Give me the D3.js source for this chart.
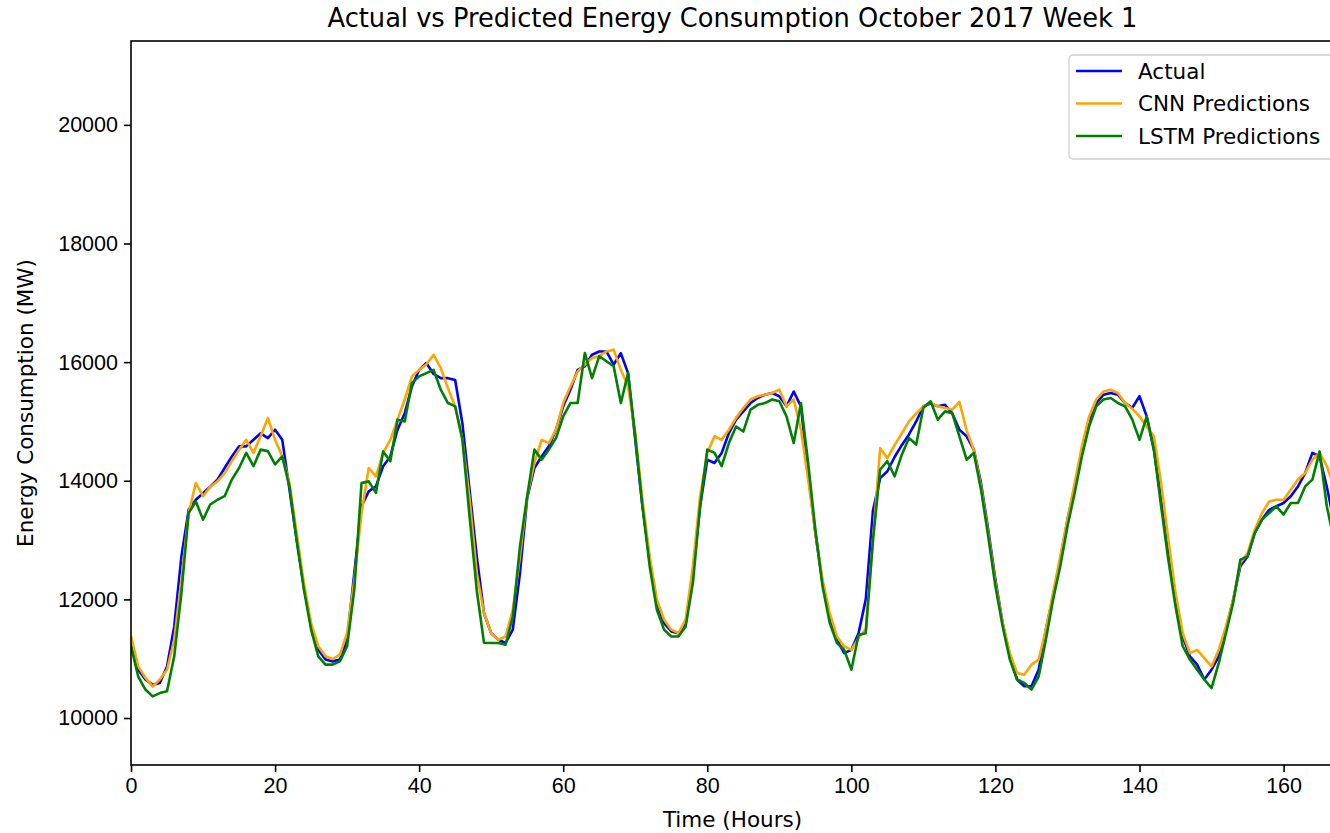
<!DOCTYPE html>
<html>
<head>
<meta charset="utf-8">
<script src="https://cdn.jsdelivr.net/npm/d3@7"></script>
<style>
  html, body { margin: 0; padding: 0; background: #ffffff; }
  svg { display: block; font-family: "DejaVu Sans", sans-serif; }
  .axis path, .axis line { stroke: #000; }
  .axis text { fill: #000; font-size: 21.5px; }
</style>
</head>
<body>
<div id="chart"></div>
<script>
// hourly values, index = hour
var actual = [
  11320, 10815, 10650, 10560, 10590, 10870, 11545, 12725, 13510, 13680, 13790, 13900, 14020, 14215, 14410, 14580,
  14580, 14690, 14800, 14720, 14860, 14690, 13850, 13000, 12220, 11545, 11150, 10985, 10955, 10985, 11320, 12445,
  13570, 13820, 13905, 14245, 14410, 14860, 15140, 15590, 15870, 15985, 15800, 15730, 15730, 15700, 14970, 13850,
  12725, 11770, 11430, 11320, 11265, 11490, 12445, 13710, 14215, 14410, 14580, 14860, 15255, 15535, 15870, 15930,
  16125, 16180, 16180, 15960, 16150, 15815, 14690, 13570, 12670, 11940, 11600, 11460, 11430, 11600, 12445, 13570,
  14355, 14300, 14470, 14805, 15030, 15170, 15310, 15395, 15450, 15480, 15425, 15255, 15505, 15255, 14130, 13120,
  12275, 11710, 11320, 11095, 11150, 11430, 12000, 13500, 14045, 14160, 14400, 14600, 14780, 15000, 15255, 15300,
  15255, 15280, 15140, 14860, 14750, 14525, 13960, 13175, 12330, 11600, 11040, 10650, 10535, 10535, 10815, 11490,
  12050, 12670, 13345, 13905, 14470, 14970, 15310, 15450, 15480, 15450, 15310, 15230, 15425, 15085, 14525, 13680,
  12895, 12050, 11375, 11040, 10900, 10650, 10815, 11040, 11490, 11995, 12560, 12725, 13120, 13345, 13510, 13570,
  13625, 13740, 13905, 14130, 14470, 14410, 13900, 13300
];
var cnnPred = [
  11380, 10870, 10680, 10530, 10650, 10815, 11320, 12330, 13455, 13960, 13740, 13900, 13990, 14130, 14330, 14520,
  14690, 14470, 14750, 15060, 14690, 14410, 13960, 13120, 12275, 11600, 11210, 11040, 10995, 11070, 11430, 12330,
  13455, 14215, 14075, 14470, 14690, 15030, 15370, 15760, 15870, 15960, 16125, 15900, 15560, 15250, 14700, 13700,
  12445, 11770, 11430, 11320, 11375, 11825, 12725, 13740, 14300, 14690, 14635, 14860, 15310, 15590, 15840, 15960,
  16070, 16100, 16180, 16210, 15870, 15590, 14805, 13680, 12725, 11995, 11660, 11490, 11430, 11660, 12560, 13740,
  14470, 14750, 14690, 14860, 15060, 15225, 15370, 15425, 15450, 15480, 15535, 15255, 15370, 14860, 14020, 13120,
  12330, 11770, 11375, 11210, 11150, 11350, 11500, 13000, 14550, 14380, 14600, 14800, 15000, 15130, 15255, 15320,
  15255, 15225, 15200, 15330, 14850, 14525, 13905, 13120, 12275, 11600, 11095, 10760, 10730, 10900, 10985, 11490,
  12110, 12725, 13345, 13960, 14580, 15085, 15370, 15505, 15535, 15480, 15310, 15215, 15085, 14915, 14750, 13960,
  13010, 12110, 11430, 11095, 11150, 11010, 10870, 11150, 11545, 11995, 12615, 12780, 13175, 13455, 13650, 13680,
  13680, 13850, 14020, 14130, 14355, 14470, 14250, 13900
];
var lstmPred = [
  11210, 10700, 10480, 10365, 10420, 10450, 11040, 12110, 13455, 13650, 13345, 13600, 13680, 13740, 14020, 14215,
  14470, 14245, 14525, 14500, 14275, 14410, 13900, 13000, 12165, 11490, 11040, 10900, 10900, 10955, 11210, 12165,
  13960, 13990, 13795, 14495, 14330, 15030, 15000, 15650, 15760, 15815, 15870, 15535, 15310, 15255, 14700, 13400,
  12150, 11270, 11265, 11265, 11235, 11710, 12895, 13740, 14525, 14355, 14525, 14720, 15085, 15310, 15310, 16155,
  15730, 16100, 16015, 15930, 15310, 15815, 14750, 13570, 12560, 11825, 11490, 11375, 11375, 11545, 12275, 13570,
  14525, 14470, 14245, 14635, 14915, 14830, 15200, 15280, 15310, 15370, 15340, 15085, 14635, 15310, 14300, 13175,
  12220, 11600, 11265, 11150, 10815, 11400, 11430, 13000, 14190, 14330, 14075, 14440, 14720, 14610, 15230, 15340,
  15030, 15170, 15140, 14750, 14355, 14470, 13850, 13065, 12220, 11545, 10985, 10650, 10590, 10480, 10700, 11320,
  11995, 12560, 13230, 13795, 14410, 14915, 15255, 15370, 15395, 15310, 15255, 15030, 14690, 15085, 14525, 13570,
  12670, 11880, 11210, 10985, 10815, 10650, 10505, 10925, 11430, 11940, 12670, 12725, 13120, 13345, 13455, 13570,
  13430, 13625, 13625, 13905, 14020, 14495, 13570, 13000
];
var seriesNames = ['Actual', 'CNN Predictions', 'LSTM Predictions'];
var seriesColors = ['blue', 'orange', 'green'];
var xTicks = [0, 20, 40, 60, 80, 100, 120, 140, 160];
var yTicks = [10000, 12000, 14000, 16000, 18000, 20000];

var svgWidth = 1330, svgHeight = 833,
    margin = { top: 41, right: -4, bottom: 68, left: 131 },
    chartWidth = svgWidth - margin.left - margin.right,
    chartHeight = svgHeight - margin.top - margin.bottom;

var x = d3.scaleLinear().domain([0, 167]).range([0, chartWidth]);
var y = d3.scaleLinear().domain([9208, 21414]).range([chartHeight, 0]);

var svg = d3.select('#chart').append('svg')
    .attr('width', svgWidth)
    .attr('height', svgHeight);

var g = svg.append('g')
    .attr('transform', 'translate(' + margin.left + ',' + margin.top + ')');

g.append('clipPath')
    .attr('id', 'plot-clip')
    .append('rect')
    .attr('width', chartWidth)
    .attr('height', chartHeight);

var xAxis = d3.axisBottom(x).tickValues(xTicks).tickSizeInner(7).tickSizeOuter(0).tickPadding(6),
    yAxis = d3.axisLeft(y).tickValues(yTicks).tickFormat(d3.format('d')).tickSizeInner(7).tickSizeOuter(0).tickPadding(6);

g.append('g')
    .attr('class', 'x axis')
    .attr('transform', 'translate(0,' + chartHeight + ')')
    .call(xAxis);
g.append('g')
    .attr('class', 'y axis')
    .call(yAxis);
g.selectAll('.axis path').remove();
g.selectAll('.axis line').attr('stroke-width', 1.6);

var line = d3.line()
    .x(function (d, i) { return x(i); })
    .y(function (d) { return y(d); });

[actual, cnnPred, lstmPred].forEach(function (series, k) {
    g.append('path')
        .datum(series)
        .attr('fill', 'none')
        .attr('stroke', seriesColors[k])
        .attr('stroke-width', 2.6)
        .attr('stroke-linejoin', 'round')
        .attr('clip-path', 'url(#plot-clip)')
        .attr('d', line);
});

// frame
g.append('rect')
    .attr('width', chartWidth)
    .attr('height', chartHeight)
    .attr('fill', 'none')
    .attr('stroke', '#000')
    .attr('stroke-width', 1.6);

svg.append('text')
    .attr('x', margin.left + chartWidth / 2)
    .attr('y', 27)
    .attr('text-anchor', 'middle')
    .style('font-size', '25.7px')
    .text('Actual vs Predicted Energy Consumption October 2017 Week 1');

svg.append('text')
    .attr('x', margin.left + chartWidth / 2)
    .attr('y', 827)
    .attr('text-anchor', 'middle')
    .style('font-size', '21.5px')
    .text('Time (Hours)');

svg.append('text')
    .attr('transform', 'translate(33,' + (margin.top + chartHeight / 2) + ') rotate(-90)')
    .attr('text-anchor', 'middle')
    .style('font-size', '21.5px')
    .text('Energy Consumption (MW)');

// legend
var legend = svg.append('g')
    .attr('transform', 'translate(1069,55)');
legend.append('rect')
    .attr('width', 290)
    .attr('height', 104)
    .attr('rx', 4)
    .attr('fill', '#fff')
    .attr('fill-opacity', 0.8)
    .attr('stroke', '#d0d0d0')
    .attr('stroke-width', 1.3);
seriesNames.forEach(function (name, k) {
    var ly = 16 + k * 32.5;
    legend.append('line')
        .attr('x1', 7).attr('x2', 53)
        .attr('y1', ly).attr('y2', ly)
        .attr('stroke', seriesColors[k])
        .attr('stroke-width', 2.6);
    legend.append('text')
        .attr('x', 69)
        .attr('y', ly + 7.5)
        .style('font-size', '21.5px')
        .text(name);
});
</script>
</body>
</html>
